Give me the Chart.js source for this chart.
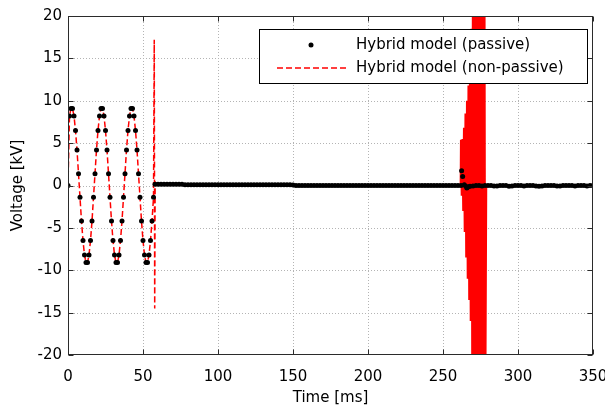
<!DOCTYPE html>
<html>
<head>
<meta charset="utf-8">
<script src="https://cdn.jsdelivr.net/npm/chart.js@4.4.0/dist/chart.umd.min.js"></script>
<style>
  html, body { margin: 0; padding: 0; background: #fff; }
</style>
</head>
<body>
<canvas id="voltChart" width="605" height="409"></canvas>
<script>
const FONT = "'DejaVu Sans', sans-serif";

const xTicks = [0, 50, 100, 150, 200, 250, 300, 350];
const yTicks = [-20, -15, -10, -5, 0, 5, 10, 15, 20];

// 50 Hz part before the event, 1 ms samples from t = 0 (both models agree)
const sineStart = 0;
const sineStep = 1;
const sineVolt = [
  0, 8.2, 9.1, 9.1, 8.2, 6.5, 4.2, 1.4, -1.4, -4.2,
  -6.5, -8.2, -9.1, -9.1, -8.2, -6.5, -4.2, -1.4, 1.4, 4.2,
  6.5, 8.2, 9.1, 9.1, 8.2, 6.5, 4.2, 1.4, -1.4, -4.2,
  -6.5, -8.2, -9.1, -9.1, -8.2, -6.5, -4.2, -1.4, 1.4, 4.2,
  6.5, 8.2, 9.1, 9.1, 8.2, 6.5, 4.2, 1.4, -1.4, -4.2,
  -6.5, -8.2, -9.1, -9.1, -8.2, -6.5, -4.2, -1.4
];

// passive model after the event, 2 ms samples
const flatStep = 2;
const flatAStart = 58; // 58 .. 262 ms
const passiveFlatA = [
  0.15, 0.15, 0.15, 0.15, 0.15, 0.15, 0.15, 0.15, 0.15, 0.15,
  0.1, 0.1, 0.1, 0.1, 0.1, 0.1, 0.1, 0.1, 0.1, 0.1,
  0.1, 0.1, 0.1, 0.1, 0.1, 0.1, 0.1, 0.1, 0.1, 0.1,
  0.1, 0.1, 0.1, 0.1, 0.1, 0.1, 0.1, 0.1, 0.1, 0.1,
  0.1, 0.1, 0.1, 0.1, 0.1, 0.1, 0.05,
  0, 0, 0, 0, 0, 0, 0, 0, 0, 0,
  0, 0, 0, 0, 0, 0, 0, 0, 0, 0,
  0, 0, 0, 0, 0, 0, 0, 0, 0, 0,
  0, 0, 0, 0, 0, 0, 0, 0, 0, 0,
  0, 0, 0, 0, 0, 0, 0, 0, 0, 0,
  0, 0, 0, 0, 0, 0
];
const passiveBumpTime = [262.4, 263.1, 264.2, 265.2, 265.9, 267];
const passiveBumpVolt = [1.75, 1.05, 0.1, -0.1, -0.3, -0.15];
const flatBStart = 268; // 268 .. 350 ms
const passiveFlatB = [
  -0.1, -0.05, 0, 0, -0.05, 0, 0, 0, -0.05, -0.05,
  0, 0, 0, -0.1, -0.05, 0, 0, 0, -0.05, 0,
  0, 0, -0.05, -0.1, -0.05, 0, 0, 0, 0, -0.05,
  -0.05, 0, 0, 0, 0, -0.05, 0, 0, 0, -0.05,
  0, 0
];

// non-passive model: switching spike and quiet part
const spikeTime = [57.5, 57.8, 58.1, 59, 150, 261.6];
const spikeVolt = [17.2, -14.5, 0.4, 0.15, 0.1, 0];
// unstable oscillation, 0.5 ms samples (crest, trough, crest, ...)
const oscStart = 261.8;
const oscStep = 0.5;
const oscVolt = [
  5.4, -1.2, 5.5, -3.0, 6.8, -5.5, 8.5, -8.5, 10.0, -11.0,
  11.8, -13.5, 14.5, -16.0, 18.5, -20.5, 30, -30, 30, -30,
  30, -30, 30, -30, 30, -30, 30, -30, 30, -30,
  30, -30, 30, -30
];
const tailTime = [279, 350];
const tailVolt = [0, 0];

const passiveData = [];
sineVolt.forEach((v, i) => passiveData.push({ x: sineStart + i * sineStep, y: v }));
passiveFlatA.forEach((v, i) => passiveData.push({ x: flatAStart + i * flatStep, y: v }));
passiveBumpTime.forEach((t, i) => passiveData.push({ x: t, y: passiveBumpVolt[i] }));
passiveFlatB.forEach((v, i) => passiveData.push({ x: flatBStart + i * flatStep, y: v }));

const redData = [];
sineVolt.forEach((v, i) => redData.push({ x: sineStart + i * sineStep, y: v }));
spikeTime.forEach((t, i) => redData.push({ x: t, y: spikeVolt[i] }));
oscVolt.forEach((v, i) => redData.push({ x: oscStart + i * oscStep, y: v }));
tailTime.forEach((t, i) => redData.push({ x: t, y: tailVolt[i] }));

// dotted grid under the data
const gridPlugin = {
  id: 'dotGrid',
  beforeDatasetsDraw(chart) {
    const { ctx, chartArea: a, scales: { x, y } } = chart;
    ctx.save();
    ctx.strokeStyle = '#b4b4b4';
    ctx.lineWidth = 1;
    ctx.setLineDash([1, 2]);
    xTicks.slice(1, -1).forEach(v => {
      const px = Math.round(x.getPixelForValue(v)) + 0.5;
      ctx.beginPath(); ctx.moveTo(px, a.top); ctx.lineTo(px, a.bottom); ctx.stroke();
    });
    yTicks.slice(1, -1).forEach(v => {
      const py = Math.round(y.getPixelForValue(v)) + 0.5;
      ctx.beginPath(); ctx.moveTo(a.left, py); ctx.lineTo(a.right, py); ctx.stroke();
    });
    ctx.restore();
  }
};

// box round the plot with inward ticks, then the legend box
const framePlugin = {
  id: 'frameLegend',
  afterDraw(chart) {
    const { ctx, chartArea: a, scales: { x, y } } = chart;
    const L = Math.round(a.left) + 0.5, R = Math.round(a.right) - 0.5;
    const T = Math.round(a.top) + 0.5, B = Math.round(a.bottom) - 0.5;
    ctx.save();
    ctx.strokeStyle = '#2b2b2b';
    ctx.lineWidth = 1;
    ctx.strokeRect(L, T, R - L, B - T);
    ctx.beginPath();
    xTicks.forEach(v => {
      const px = Math.round(x.getPixelForValue(v)) + 0.5;
      ctx.moveTo(px, B); ctx.lineTo(px, B - 5);
      ctx.moveTo(px, T); ctx.lineTo(px, T + 5);
    });
    yTicks.forEach(v => {
      const py = Math.round(y.getPixelForValue(v)) + 0.5;
      ctx.moveTo(L, py); ctx.lineTo(L + 5, py);
      ctx.moveTo(R, py); ctx.lineTo(R - 5, py);
    });
    ctx.stroke();

    // legend
    const bx = Math.round(a.right) - 334, by = Math.round(a.top) + 13;
    ctx.fillStyle = '#fff';
    ctx.fillRect(bx, by, 328, 54);
    ctx.strokeStyle = '#000';
    ctx.strokeRect(bx + 0.5, by + 0.5, 328, 54);
    ctx.fillStyle = '#000';
    ctx.beginPath();
    ctx.arc(bx + 52, by + 16, 2.5, 0, Math.PI * 2);
    ctx.fill();
    ctx.strokeStyle = '#ff0000';
    ctx.lineWidth = 1.5;
    ctx.setLineDash([6, 3]);
    ctx.beginPath();
    ctx.moveTo(bx + 18, by + 39); ctx.lineTo(bx + 88, by + 39);
    ctx.stroke();
    ctx.setLineDash([]);
    ctx.font = '15px ' + FONT;
    ctx.textBaseline = 'middle';
    ctx.fillText(chart.data.datasets[0].label, bx + 97, by + 16);
    ctx.fillText(chart.data.datasets[1].label, bx + 97, by + 39);
    ctx.restore();
  }
};

new Chart(document.getElementById('voltChart'), {
  type: 'scatter',
  data: {
    datasets: [
      {
        label: 'Hybrid model (passive)',
        data: passiveData,
        showLine: false,
        pointRadius: 2.5,
        pointHoverRadius: 2.5,
        pointBackgroundColor: '#000',
        pointBorderWidth: 0
      },
      {
        label: 'Hybrid model (non-passive)',
        data: redData,
        showLine: true,
        pointRadius: 0,
        borderColor: '#ff0000',
        borderWidth: 1.5,
        borderDash: [6, 3],
        segment: {
          borderDash: ctx => (ctx.p0.parsed.x >= 261.6 && ctx.p1.parsed.x <= 279 ? [] : undefined)
        }
      }
    ]
  },
  options: {
    responsive: false,
    animation: false,
    events: [],
    layout: { padding: { top: 16, right: 12, left: 0, bottom: 0 } },
    plugins: { legend: { display: false }, tooltip: { enabled: false } },
    scales: {
      x: {
        type: 'linear',
        min: 0,
        max: 350,
        afterBuildTicks: s => { s.ticks = xTicks.map(v => ({ value: v })); },
        afterFit: s => { s.height = 54; s.paddingLeft = 0; s.paddingRight = 0; },
        grid: { display: false, drawTicks: false },
        border: { display: false },
        ticks: { font: { family: FONT, size: 15 }, color: '#000', padding: 13, maxRotation: 0 },
        title: {
          display: true, text: 'Time [ms]', color: '#000',
          font: { family: FONT, size: 15 }, padding: { top: 0, bottom: 2 }
        }
      },
      y: {
        type: 'linear',
        min: -20,
        max: 20,
        afterBuildTicks: s => { s.ticks = yTicks.map(v => ({ value: v })); },
        afterFit: s => { s.width = 68; s.paddingTop = 0; s.paddingBottom = 0; },
        grid: { display: false, drawTicks: false },
        border: { display: false },
        ticks: { font: { family: FONT, size: 15 }, color: '#000', padding: 6 },
        title: {
          display: true, text: 'Voltage [kV]', color: '#000',
          font: { family: FONT, size: 15 }, padding: { top: 9, bottom: 0 }
        }
      }
    }
  },
  plugins: [gridPlugin, framePlugin]
});
</script>
</body>
</html>
